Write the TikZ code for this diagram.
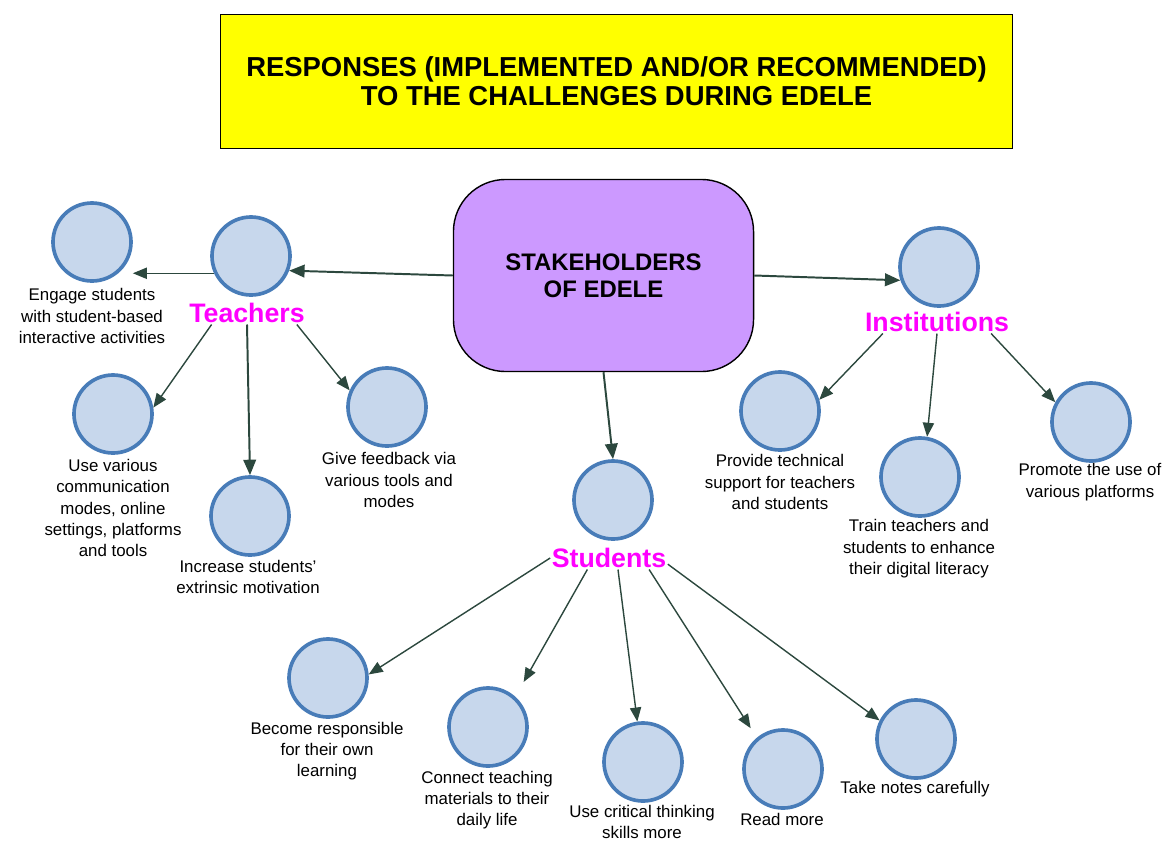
\documentclass[tikz,border=0pt]{standalone}
\usepackage{fontspec}
\setmainfont{Liberation Sans}
\usetikzlibrary{arrows.meta}
\definecolor{titleYellow}{RGB}{255,255,0}
\definecolor{hubPurple}{RGB}{204,153,255}
\definecolor{circleFill}{RGB}{199,215,236}
\definecolor{circleEdge}{RGB}{72,124,184}
\definecolor{groupMagenta}{RGB}{255,0,255}
\definecolor{arrowGreen}{RGB}{44,72,62}

\begin{document}
\begin{tikzpicture}[x=0.025cm,y=-0.025cm,
  blob/.style={circle,draw=circleEdge,fill=circleFill,line width=2.6pt,minimum size=1.95cm,inner sep=0pt},
  note/.style={align=center,font=\fontsize{12}{15.2}\selectfont,inner sep=1pt},
  group/.style={text=groupMagenta,font=\fontsize{19}{22}\selectfont\bfseries,inner sep=1pt},
  link/.style={arrowGreen,line width=1pt,-{Triangle[length=10pt,width=8pt]}},
  biglink/.style={arrowGreen,line width=1.4pt,-{Triangle[length=11pt,width=9pt]}}]
            \useasboundingbox (0,0) rectangle (1170,842);

            % Title
            \node[draw=black,fill=titleYellow,line width=0.8pt,minimum width=19.8cm,minimum height=3.35cm,align=center,font=\fontsize{19.5}{20.6}\selectfont\bfseries] (title) at (616.5,81.5) {RESPONSES (IMPLEMENTED AND/OR RECOMMENDED)\\TO THE CHALLENGES DURING EDELE};

            % Stakeholders
            \node[draw=black,fill=hubPurple,rounded corners=1.3cm,line width=1pt,minimum width=7.5cm,minimum height=4.8cm,align=center,font=\fontsize{17}{19.1}\selectfont\bfseries] (hub) at (603.5,275.5) {STAKEHOLDERS\\OF EDELE};

            % Teachers
            \node[blob] (tch) at (251,256) {};
            \node[group] (tchl) at (247,313) {Teachers};
            \node[blob] (eng) at (92,242) {};
            \node[note] (engt) at (92,316) {Engage students\\with student-based\\interactive activities};
            \node[blob] (use) at (113,414) {};
            \node[note] (uset) at (113,508) {Use various\\communication\\modes, online\\settings, platforms\\and tools};
            \node[blob] (inc) at (250,516) {};
            \node[note] (inct) at (248,577) {Increase students'\\extrinsic motivation};
            \node[blob] (giv) at (387,407) {};
            \node[note] (givt) at (389,480) {Give feedback via\\various tools and\\modes};

            % Institutions
            \node[blob] (ins) at (939,267) {};
            \node[group] (insl) at (937,322) {Institutions};
            \node[blob] (pro) at (780,411) {};
            \node[note] (prot) at (780,482) {Provide technical\\support for teachers\\and students};
            \node[blob] (trn) at (920,477) {};
            \node[note] (trnt) at (919,549) {Train teachers and\\students to enhance\\their digital literacy};
            \node[blob] (prm) at (1091,422) {};
            \node[note] (prmt) at (1090,482) {Promote the use of\\various platforms};

            % Students
            \node[blob] (stu) at (613,500) {};
            \node[group] (stul) at (609,558) {Students};
            \node[blob] (bec) at (328,678) {};
            \node[note] (bect) at (327,751) {Become responsible\\for their own\\learning};
            \node[blob] (con) at (488,727) {};
            \node[note] (cont) at (487,800) {Connect teaching\\materials to their\\daily life};
            \node[blob] (cri) at (643,762) {};
            \node[note] (crit) at (642,822) {Use critical thinking\\skills more};
            \node[blob] (rea) at (783,769) {};
            \node[note] (reat) at (782,819) {Read more};
            \node[blob] (tak) at (916,739) {};
            \node[note] (takt) at (915,789) {Take notes carefully};

            \draw[biglink] (hub.west) -- (tch.-21);
            \draw[biglink] (hub.east) -- (ins.199);
            \draw[biglink] (hub.south) -- (stu.north);
            \draw[link] (tch.205) -- (eng.east |- tch.205);
            \draw[link] (tchl.198) -- (use.9);
            \draw[biglink] (tchl.south) -- (inc.north);
            \draw[link] (tchl.347) -- (giv.156);
            \draw[link] (insl.192) -- (pro.16);
            \draw[link] (insl.south) -- (trn.80);
            \draw[link] (insl.348) -- (prm.151);
            \draw[link] (stul.west) -- (bec.5);
            \draw[link,shorten >=12pt] (stul.208) -- (con.48);
            \draw[link] (stul.308) -- (cri.98);
            \draw[link,shorten >=8pt] (stul.344) -- (rea.130);
            \draw[link] (stul.354) -- (tak.153);
        \end{tikzpicture}
\end{document}
